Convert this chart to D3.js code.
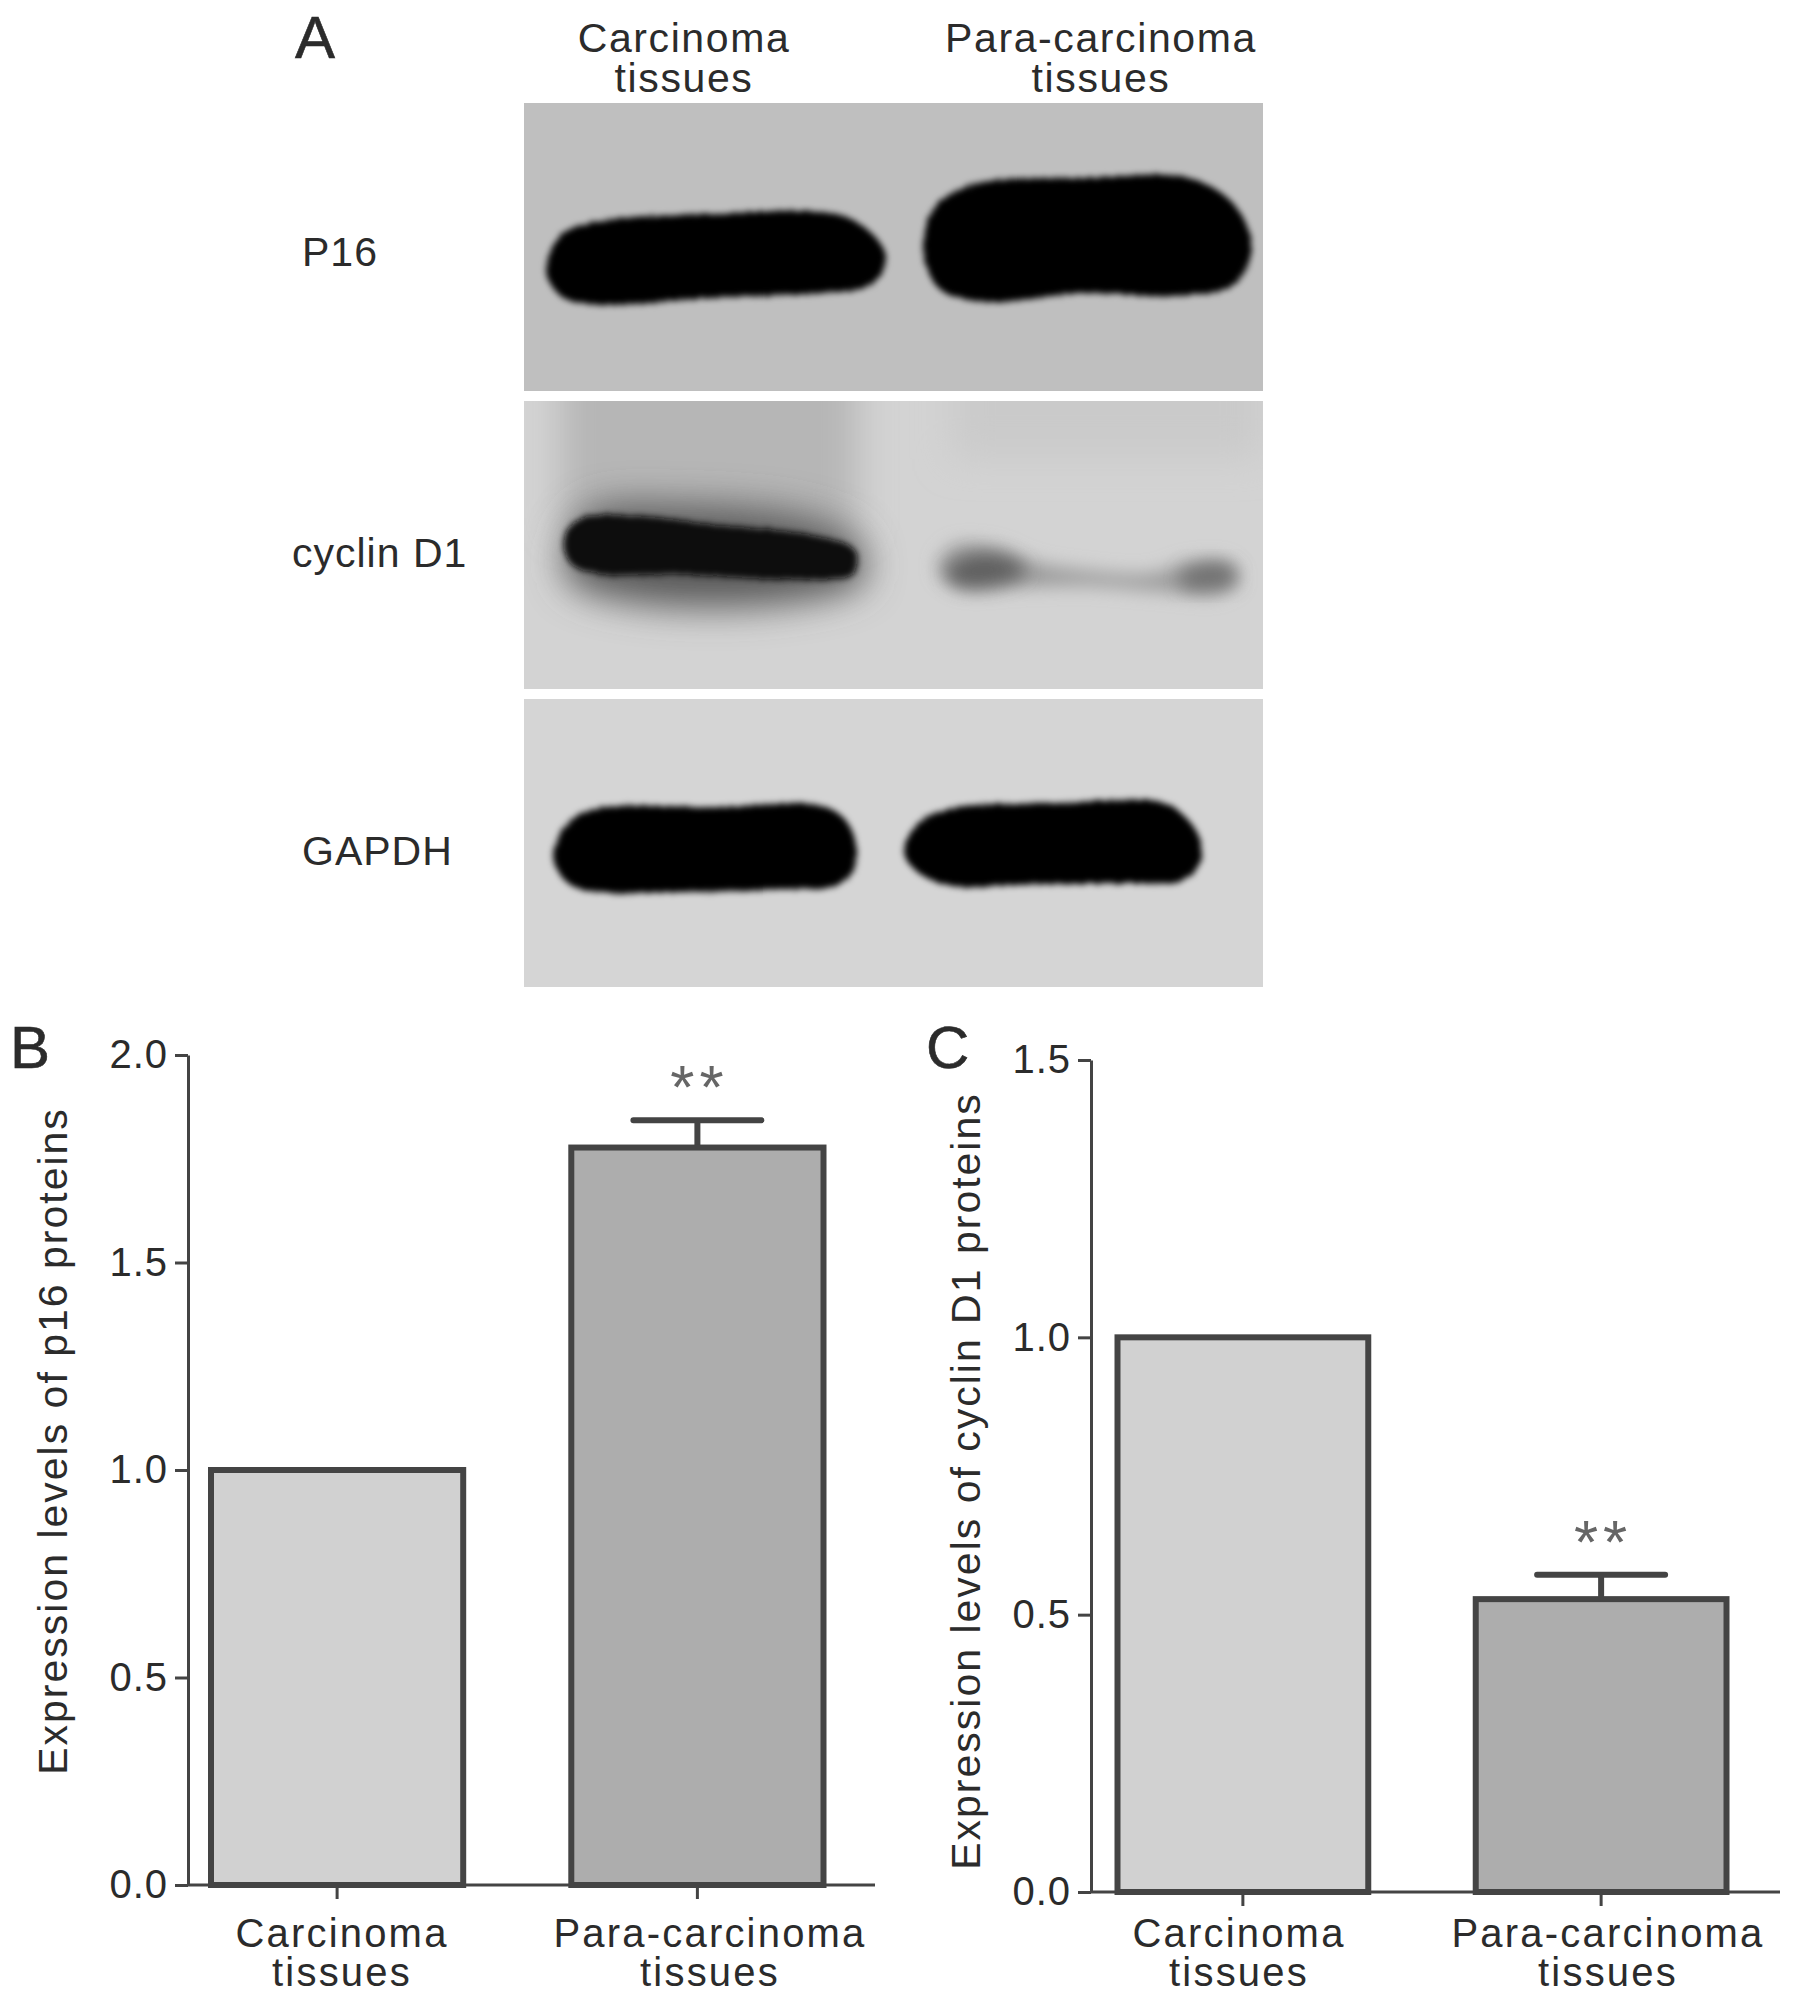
<!DOCTYPE html>
<html>
<head>
<meta charset="utf-8">
<script src="https://cdn.jsdelivr.net/npm/d3@7"></script>
<style>
    html, body { margin: 0; background: #fff; }
    svg { display: block; }
    text { font-family: "Liberation Sans", Arial, sans-serif; fill: #2b2b2b; }
</style>
</head>
<body>
<script>
// values
const groups = ['Carcinoma', 'Para-carcinoma'];
const p16Values = [1.0, 1.777];
const p16Errors = [0, 0.066];
const cyclinValues = [1.0, 0.528];
const cyclinErrors = [0, 0.044];
const p16Ticks = [0.0, 0.5, 1.0, 1.5, 2.0];
const cyclinTicks = [0.0, 0.5, 1.0, 1.5];
const blotNames = ['P16', 'cyclin D1', 'GAPDH'];

// band outlines, in percent of one blot strip
const p16Left = [[3,58],[5,46],[10,41],[26,38.5],[38,37.5],[44,40],[48,48],[49,55],[47,63],[40,66],[26,67.5],[10,70],[5,67]];
const p16Right = [[54,49],[56,35],[61,28],[76,26],[90,26],[96,35],[98.5,50],[96,63],[88,67],[76,66],[62,69],[56,64]];
const cyclinLeft = [[5.5,47],[7.5,41],[15.4,40],[25.8,43],[39.6,47],[44.8,52],[44.5,60],[36,62],[20.5,60],[10,60],[6.2,56]];
const cyclinFaint = [[56,58],[58,50.5],[63.5,50.5],[69,56],[76,59],[85,60],[90,56],[95,56],[96.7,62],[94,67],[86,66],[76,64],[67,64.5],[59,65]];
const cyclinBlobA = [[57,60],[60,54],[65,54],[68,59],[65,63],[59,64]];
const cyclinBlobB = [[89,60],[92,57],[96,58],[96,63],[92,65],[89,64]];
const cyclinHalo = [[6,48],[9,38],[22,36],[38,40],[45,48],[46,62],[36,70],[15,70],[6,62]];
const gapdhLeft = [[4,55],[6,43],[10,38],[26,37.5],[40,37],[43.5,42],[45,52],[44.5,60],[42,65],[36,66],[22,67],[10,67],[6,64]];
const gapdhRight = [[51.4,53],[53.5,43],[58,38],[72.6,36],[86.5,36],[89.5,41],[91.5,49],[91.5,57],[89,63],[81,64],[67,64.5],[58,65],[53.5,60.5]];

const svg = d3.select('body').append('svg')
    .attr('width', 1795)
    .attr('height', 2001);

const defs = svg.append('defs');

const grainy = defs.append('filter').attr('id', 'grainy')
    .attr('x', '-10%').attr('y', '-20%').attr('width', '120%').attr('height', '140%');
grainy.append('feTurbulence').attr('type', 'fractalNoise').attr('baseFrequency', 0.3)
    .attr('numOctaves', 2).attr('seed', 4).attr('result', 'noise');
grainy.append('feDisplacementMap').attr('in', 'SourceGraphic').attr('in2', 'noise')
    .attr('scale', 6).attr('result', 'moved');
grainy.append('feGaussianBlur').attr('in', 'moved').attr('stdDeviation', 3);

defs.append('filter').attr('id', 'soft').attr('x', '-30%').attr('y', '-60%').attr('width', '160%').attr('height', '220%')
    .append('feGaussianBlur').attr('stdDeviation', 9);
defs.append('filter').attr('id', 'softer').attr('x', '-30%').attr('y', '-60%').attr('width', '160%').attr('height', '220%')
    .append('feGaussianBlur').attr('stdDeviation', 18);

// --- panel A, the blots ---
const blotX = d3.scaleLinear().domain([0, 100]).range([524, 1263]);
const blotTops = d3.scalePoint().domain(blotNames).range([103, 699]);
const blotH = 288;

const outline = d3.line().curve(d3.curveCatmullRomClosed.alpha(0.5));

blotNames.forEach((name, i) => {
    const y = d3.scaleLinear().domain([0, 100]).range([0, blotH]);
    const g = svg.append('g').attr('transform', `translate(0, ${blotTops(name)})`);
    const clip = `strip-${i}`;
    defs.append('clipPath').attr('id', clip).append('rect')
        .attr('x', blotX(0)).attr('y', 0).attr('width', blotX(100) - blotX(0)).attr('height', blotH);

    const shape = (pts, fill, filter) => g.append('path')
        .attr('d', outline(pts.map(p => [blotX(p[0]), y(p[1])])))
        .attr('fill', fill)
        .attr('filter', `url(#${filter})`);

    g.append('rect')
        .attr('x', blotX(0)).attr('y', 0)
        .attr('width', blotX(100) - blotX(0)).attr('height', blotH)
        .attr('fill', ['#bfbfbf', '#d3d3d3', '#d5d5d5'][i]);

    if (i === 0) {
        shape(p16Left, '#050505', 'grainy');
        shape(p16Right, '#050505', 'grainy');
    } else if (i === 1) {
        const smear = g.append('g').attr('clip-path', `url(#${clip})`);
        smear.append('rect')
            .attr('x', blotX(5)).attr('y', -60)
            .attr('width', blotX(45) - blotX(5)).attr('height', y(45) + 60)
            .attr('fill', '#b6b6b6').attr('filter', 'url(#softer)');
        smear.append('rect')
            .attr('x', blotX(58)).attr('y', -60)
            .attr('width', blotX(100) - blotX(58)).attr('height', y(20) + 60)
            .attr('fill', '#cacaca').attr('filter', 'url(#softer)');
        smear.append('path')
            .attr('d', outline(cyclinHalo.map(p => [blotX(p[0]), y(p[1])])))
            .attr('fill', '#5a5a5a').attr('filter', 'url(#softer)');
        shape(cyclinLeft, '#0a0a0a', 'grainy');
        shape(cyclinFaint, '#9a9a9a', 'soft');
        shape(cyclinBlobA, '#5e5e5e', 'soft');
        shape(cyclinBlobB, '#6e6e6e', 'soft');
    } else {
        shape(gapdhLeft, '#050505', 'grainy');
        shape(gapdhRight, '#050505', 'grainy');
    }

    g.append('text')
        .attr('x', [302, 292, 302][i])
        .attr('y', [163, 166, 166][i])
        .attr('font-size', 41)
        .attr('letter-spacing', 1)
        .text(name);
});

svg.append('text').attr('x', 295).attr('y', 58).attr('font-size', 60).attr('stroke', '#2b2b2b').attr('stroke-width', 0.6).text('A');

const laneLabel = d3.scalePoint().domain(groups).range([684, 1101]);
groups.forEach(name => {
    const t = svg.append('text').attr('text-anchor', 'middle').attr('font-size', 41).attr('letter-spacing', 1.6);
    t.append('tspan').attr('x', laneLabel(name)).attr('y', 52).text(name);
    t.append('tspan').attr('x', laneLabel(name)).attr('y', 92).text('tissues');
});

// --- panels B and C, the bars ---
function barPanel(opts) {
    const y = d3.scaleLinear().domain(opts.domain).range([opts.bottom, opts.top]);
    const x = d3.scaleBand().domain(groups).range(opts.barRange).paddingInner(0.3);
    const g = svg.append('g');
    const color = '#444';
    const fills = ['#d1d1d1', '#adadad'];

    // error bars go under the bars
    g.selectAll('path.err')
        .data(groups.filter((d, i) => opts.errors[i] > 0))
        .enter()
        .append('path')
        .attr('class', 'err')
        .attr('d', d => {
            const i = groups.indexOf(d);
            const cx = x(d) + x.bandwidth() / 2;
            const hi = y(opts.values[i] + opts.errors[i]);
            return `M${cx},${y(opts.values[i])}V${hi}M${cx - 64},${hi}H${cx + 64}`;
        })
        .attr('fill', 'none')
        .attr('stroke', color)
        .attr('stroke-width', 6)
        .attr('stroke-linecap', 'round');

    g.selectAll('rect.bar')
        .data(groups)
        .enter()
        .append('rect')
        .attr('class', 'bar')
        .attr('x', d => x(d))
        .attr('y', (d, i) => y(opts.values[i]))
        .attr('width', x.bandwidth())
        .attr('height', (d, i) => opts.bottom - y(opts.values[i]))
        .style('fill', (d, i) => fills[i])
        .style('stroke', color)
        .style('stroke-width', 6);

    const yAxis = g.append('g')
        .attr('transform', `translate(${opts.axisX}, 0)`)
        .call(d3.axisLeft(y).tickValues(opts.ticks).tickFormat(d3.format('.1f')).tickSize(13).tickSizeOuter(0).tickPadding(7));
    const xAxis = g.append('g')
        .attr('transform', `translate(0, ${opts.bottom})`)
        .call(d3.axisBottom(x).tickSize(14).tickSizeOuter(0).tickFormat(''));
    xAxis.select('.domain').remove();
    xAxis.append('line')
        .attr('x1', opts.axisX).attr('x2', opts.axisEnd)
        .attr('stroke', color).attr('stroke-width', 3);
    [yAxis, xAxis].forEach(a => {
        a.selectAll('.domain').attr('stroke', color).attr('stroke-width', 3);
        a.selectAll('.tick line').attr('stroke', color).attr('stroke-width', 3);
    });
    yAxis.selectAll('text')
        .style('font-family', '"Liberation Sans", Arial, sans-serif')
        .style('font-size', '40px')
        .style('letter-spacing', '1px')
        .style('fill', '#2b2b2b');

    groups.forEach((name, i) => {
        const t = g.append('text').attr('text-anchor', 'middle').attr('font-size', 40).attr('letter-spacing', 2.2);
        t.append('tspan').attr('x', opts.labelX[i]).attr('y', 1947).text(name);
        t.append('tspan').attr('x', opts.labelX[i]).attr('y', 1986).text('tissues');
    });

    g.append('text')
        .attr('transform', `translate(${opts.titleX}, ${opts.titleY}) rotate(-90)`)
        .attr('text-anchor', 'middle')
        .attr('font-size', 41)
        .attr('letter-spacing', 2)
        .text(opts.title);

    const si = opts.errors.findIndex(e => e > 0);
    g.append('text')
        .attr('x', x(groups[si]) + x.bandwidth() / 2 + 2)
        .attr('y', y(opts.values[si] + opts.errors[si]) - 12)
        .attr('text-anchor', 'middle')
        .attr('font-size', 62)
        .attr('letter-spacing', 5)
        .style('fill', '#666')
        .text('**');

    svg.append('text').attr('x', opts.letterX).attr('y', opts.letterY).attr('font-size', 60)
        .attr('stroke', '#2b2b2b').attr('stroke-width', 0.6).text(opts.letter);
}

barPanel({
    letter: 'B', letterX: 10, letterY: 1068,
    title: 'Expression levels of p16 proteins', titleX: 67, titleY: 1441,
    domain: [0, 2], top: 1055, bottom: 1885,
    axisX: 188, axisEnd: 875, barRange: [211, 823.5],
    values: p16Values, errors: p16Errors, ticks: p16Ticks,
    labelX: [342, 710]
});

barPanel({
    letter: 'C', letterX: 926, letterY: 1068,
    title: 'Expression levels of cyclin D1 proteins', titleX: 980, titleY: 1481,
    domain: [0, 1.5], top: 1060, bottom: 1892,
    axisX: 1091, axisEnd: 1780, barRange: [1117.5, 1726.5],
    values: cyclinValues, errors: cyclinErrors, ticks: cyclinTicks,
    labelX: [1239, 1608]
});
</script>
</body>
</html>
